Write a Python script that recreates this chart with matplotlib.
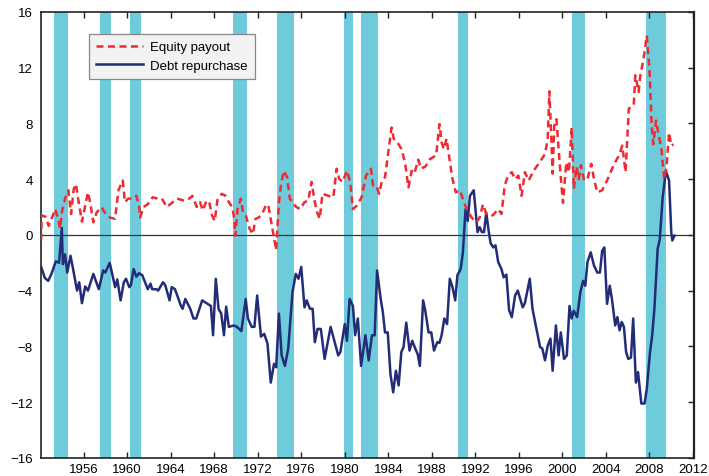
import matplotlib
matplotlib.use("Agg")
import matplotlib.pyplot as plt

plt.rcParams['font.family'] = ['Liberation Sans', 'DejaVu Sans']

# recession periods (start, end) in years
rec_start = [1953.24, 1957.47, 1960.23, 1969.73, 1973.73, 1979.95, 1981.51, 1990.40, 2000.90, 2007.69]
rec_end = [1954.57, 1958.54, 1961.27, 1971.04, 1975.29, 1980.75, 1983.01, 1991.28, 2002.03, 2009.50]

# equity payout (red dashed)
eq_year = [1952.10, 1952.15, 1952.50, 1952.80, 1953.10, 1953.40, 1953.70, 1953.85, 1954.00, 1954.30,
           1954.60, 1954.85, 1955.10, 1955.30, 1955.50, 1955.85, 1956.15, 1956.40, 1956.60, 1956.90,
           1957.20, 1957.65, 1957.95, 1958.40, 1958.90, 1959.20, 1959.60, 1959.80, 1960.10, 1960.50,
           1960.85, 1961.10, 1961.20, 1961.50, 1961.90, 1962.35, 1962.80, 1963.20, 1963.65, 1964.20,
           1964.60, 1965.25, 1965.70, 1966.00, 1966.40, 1966.70, 1966.95, 1967.30, 1967.55, 1967.80,
           1968.05, 1968.30, 1968.70, 1969.05, 1969.35, 1969.65, 1969.80, 1969.95, 1970.15, 1970.45,
           1970.65, 1970.90, 1971.25, 1971.55, 1971.80, 1972.10, 1972.40, 1972.80, 1973.00, 1973.25,
           1973.45, 1973.70, 1973.95, 1974.15, 1974.40, 1974.70, 1974.95, 1975.30, 1975.55, 1975.90,
           1976.30, 1976.65, 1976.95, 1977.15, 1977.40, 1977.70, 1977.95, 1978.50, 1978.95, 1979.25,
           1979.50, 1979.80, 1980.20, 1980.50, 1980.75, 1981.10, 1981.55, 1981.95, 1982.40, 1982.60,
           1982.90, 1983.15, 1983.40, 1983.70, 1984.00, 1984.30, 1984.50, 1984.95, 1985.25, 1985.55,
           1985.85, 1986.15, 1986.40, 1986.75, 1987.00, 1987.40, 1987.85, 1988.40, 1988.70, 1988.90,
           1989.10, 1989.35, 1989.60, 1989.90, 1990.20, 1990.60, 1990.90, 1991.20, 1991.65, 1992.10,
           1992.40, 1992.70, 1993.00, 1993.60, 1994.10, 1994.40, 1994.70, 1995.00, 1995.35, 1995.65,
           1995.95, 1996.25, 1996.55, 1996.90, 1997.35, 1997.90, 1998.40, 1998.65, 1998.80, 1998.95,
           1999.10, 1999.25, 1999.45, 1999.65, 1999.90, 2000.05, 2000.35, 2000.60, 2000.85, 2001.05,
           2001.30, 2001.50, 2001.70, 2002.00, 2002.30, 2002.65, 2002.90, 2003.20, 2003.65, 2004.10,
           2004.70, 2005.20, 2005.50, 2005.80, 2006.10, 2006.55, 2006.70, 2007.00, 2007.15, 2007.45,
           2007.75, 2008.00, 2008.20, 2008.35, 2008.60, 2008.80, 2009.10, 2009.35, 2009.55, 2009.80,
           2010.00, 2010.20]
eq_val = [-0.4, 1.4, 1.3, 0.65, 1.25, 1.85, 1.0, 0.45, 1.6, 2.6,
          3.2, 1.5, 3.3, 3.65, 2.6, 0.95, 2.1, 3.05, 2.35, 0.9,
          1.6, 2.0, 1.6, 1.25, 1.15, 3.2, 3.9, 2.35, 2.6, 2.6,
          2.8, 2.1, 1.25, 2.0, 2.2, 2.7, 2.6, 2.6, 2.0, 2.35,
          2.6, 2.45, 2.6, 2.8, 2.0, 2.35, 1.75, 2.45, 2.35, 1.4,
          1.0, 2.5, 2.95, 2.8, 2.35, 2.0, 1.4, -0.05, 1.85, 2.6,
          1.6, 1.4, 0.45, 0.05, 1.15, 1.25, 1.5, 2.2, 2.0, 0.9,
          0.05, -1.1, 2.35, 3.65, 4.6, 4.15, 2.6, 2.2, 2.0, 1.85,
          2.35, 2.45, 3.8, 2.8, 1.75, 1.15, 2.95, 2.8, 2.7, 4.75,
          4.0, 3.8, 4.6, 3.8, 1.85, 2.1, 2.7, 4.25, 4.75, 3.55,
          3.55, 2.95, 3.8, 4.15, 5.95, 7.7, 6.9, 6.5, 6.1, 5.1,
          3.4, 4.6, 4.4, 5.4, 4.75, 4.9, 5.45, 5.7, 7.95, 6.65,
          6.15, 6.9, 5.55, 4.0, 3.05, 3.2, 2.45, 1.85, 1.25, 0.9,
          1.25, 2.2, 1.5, 1.4, 1.85, 1.5, 3.55, 4.25, 4.5, 4.0,
          4.25, 2.8, 4.5, 3.9, 4.6, 5.2, 5.8, 6.9, 10.3, 7.5,
          4.4, 7.85, 8.3, 6.15, 3.65, 2.3, 5.2, 4.5, 7.7, 3.3,
          4.9, 4.0, 5.0, 3.9, 4.0, 5.1, 4.0, 3.05, 3.2, 3.9,
          5.0, 5.7, 6.4, 4.5, 9.05, 9.3, 11.45, 10.25, 11.4, 12.6,
          14.3, 11.9, 7.85, 6.5, 8.2, 7.35, 6.15, 4.0, 4.75, 7.35,
          6.4, 6.5]

# debt repurchase (navy solid)
debt_year = [1952.10, 1952.45, 1952.75, 1953.05, 1953.45, 1953.75, 1954.00, 1954.10, 1954.30, 1954.50,
             1954.80, 1955.00, 1955.40, 1955.60, 1955.85, 1956.15, 1956.40, 1956.90, 1957.40, 1957.80,
             1958.00, 1958.40, 1958.90, 1959.10, 1959.40, 1959.70, 1959.90, 1960.20, 1960.35, 1960.60,
             1960.85, 1961.10, 1961.40, 1961.90, 1962.15, 1962.30, 1962.70, 1962.85, 1963.30, 1963.50,
             1963.90, 1964.10, 1964.40, 1964.95, 1965.10, 1965.35, 1965.80, 1966.10, 1966.35, 1966.90,
             1967.30, 1967.70, 1967.90, 1968.15, 1968.40, 1968.65, 1968.90, 1969.10, 1969.35, 1969.80,
             1970.10, 1970.50, 1970.90, 1971.10, 1971.45, 1971.70, 1971.95, 1972.30, 1972.60, 1972.90,
             1973.20, 1973.50, 1973.70, 1973.95, 1974.20, 1974.50, 1974.80, 1975.20, 1975.50, 1975.75,
             1976.00, 1976.30, 1976.50, 1976.80, 1977.05, 1977.25, 1977.50, 1977.80, 1978.15, 1978.70,
             1979.40, 1979.60, 1980.00, 1980.20, 1980.45, 1980.75, 1980.95, 1981.20, 1981.50, 1981.90,
             1982.20, 1982.50, 1982.75, 1982.97, 1983.30, 1983.50, 1983.70, 1983.95, 1984.20, 1984.45,
             1984.70, 1984.95, 1985.20, 1985.40, 1985.65, 1985.95, 1986.20, 1986.50, 1986.70, 1986.90,
             1987.20, 1987.40, 1987.70, 1987.95, 1988.20, 1988.50, 1988.70, 1988.90, 1989.15, 1989.40,
             1989.65, 1989.90, 1990.15, 1990.35, 1990.65, 1990.85, 1991.10, 1991.30, 1991.50, 1991.85,
             1992.20, 1992.40, 1992.60, 1992.80, 1993.00, 1993.20, 1993.40, 1993.65, 1993.85, 1994.10,
             1994.40, 1994.60, 1994.85, 1995.10, 1995.35, 1995.65, 1995.90, 1996.35, 1996.55, 1997.00,
             1997.25, 1997.55, 1997.95, 1998.15, 1998.40, 1998.65, 1998.90, 1999.10, 1999.40, 1999.65,
             1999.85, 2000.15, 2000.40, 2000.65, 2000.85, 2001.05, 2001.35, 2001.65, 2001.90, 2002.10,
             2002.30, 2002.60, 2002.90, 2003.20, 2003.45, 2003.65, 2003.85, 2004.10, 2004.35, 2004.55,
             2004.85, 2005.05, 2005.25, 2005.45, 2005.65, 2005.85, 2006.05, 2006.30, 2006.50, 2006.75,
             2006.95, 2007.25, 2007.55, 2007.75, 2008.05, 2008.25, 2008.45, 2008.75, 2008.95, 2009.20,
             2009.50, 2009.80, 2010.00, 2010.10, 2010.30]
debt_val = [-2.3, -3.1, -3.3, -2.8, -1.9, -2.0, 0.5, -2.1, -1.4, -2.7,
            -1.5, -2.3, -4.0, -3.4, -4.9, -3.7, -4.0, -2.8, -3.9, -2.55,
            -2.7, -2.0, -3.75, -3.2, -4.7, -3.4, -3.15, -3.75, -3.6, -2.45,
            -3.0, -2.75, -2.9, -3.9, -3.5, -3.9, -3.9, -4.0, -3.4, -3.6,
            -4.7, -3.75, -3.9, -5.1, -5.3, -4.6, -5.3, -6.0, -6.0, -4.7,
            -4.9, -5.1, -7.2, -3.15, -5.3, -5.65, -7.2, -5.15, -6.6, -6.5,
            -6.6, -6.9, -4.6, -6.0, -6.6, -6.6, -4.35, -7.3, -7.1, -7.8,
            -10.6, -9.25, -9.5, -5.65, -8.65, -9.4, -8.2, -4.1, -2.8, -3.15,
            -2.3, -5.2, -4.7, -5.3, -5.3, -7.7, -6.75, -6.75, -8.9, -6.6,
            -8.65, -8.4, -6.4, -7.6, -4.6, -5.1, -7.2, -6.0, -9.4, -7.2,
            -9.0, -7.2, -7.2, -2.55, -4.6, -5.55, -7.0, -7.0, -10.0, -11.3,
            -9.75, -10.8, -8.4, -8.05, -6.3, -8.3, -7.6, -8.2, -8.55, -9.4,
            -4.7, -5.45, -7.0, -7.0, -8.3, -7.7, -7.75, -7.2, -6.0, -6.4,
            -3.15, -3.75, -4.7, -2.9, -2.45, -1.3, 1.85, 1.0, 2.8, 3.2,
            0.2, 0.55, 0.2, 0.2, 1.6, 0.4, -0.6, -0.9, -0.75, -1.95,
            -2.45, -3.05, -2.85, -5.4, -5.9, -4.35, -4.0, -5.2, -4.9, -3.15,
            -5.3, -6.5, -8.05, -8.15, -9.0, -7.95, -7.45, -9.75, -6.5, -8.65,
            -7.0, -8.9, -8.65, -5.1, -6.0, -5.45, -5.9, -4.1, -3.3, -3.65,
            -1.95, -1.25, -2.2, -2.7, -2.7, -1.15, -0.9, -4.95, -3.65, -4.6,
            -6.5, -5.9, -6.85, -6.25, -6.6, -8.4, -8.9, -8.8, -6.0, -10.6,
            -9.85, -12.1, -12.1, -11.05, -8.4, -7.2, -5.3, -1.0, -0.3, 2.6,
            4.6, 3.9, 0.2, -0.4, -0.05]

x_ticks = list(range(1956, 2013, 4))
y_ticks = list(range(-16, 17, 4))

fig = plt.figure(figsize=(7.09, 4.77), dpi=100)
ax = fig.add_axes([0.058, 0.038, 0.921, 0.935])

for s, e in zip(rec_start, rec_end):
    ax.axvspan(s, e, color='#6dcbdb', lw=0, zorder=0)

ax.axhline(0, color='#333333', lw=0.9, zorder=1)

ax.plot(eq_year, eq_val, color='#ee2b30', lw=1.8, dashes=(2.8, 1.8),
        label='Equity payout', zorder=3)
ax.plot(debt_year, debt_val, color='#232c77', lw=1.8,
        label='Debt repurchase', zorder=2)

ax.set_xlim(1952.1, 2012.1)
ax.set_ylim(-16, 16)
ax.set_xticks(x_ticks)
ax.set_yticks(y_ticks)
ax.set_yticklabels([str(v).replace('-', '\u2212') for v in y_ticks])
ax.tick_params(axis='both', direction='in', length=4, width=1, labelsize=9.5,
               top=True, right=True, color='#222222')
ax.tick_params(axis='y', left=False, pad=6)
ax.tick_params(axis='x', pad=4)

for sp in ax.spines.values():
    sp.set_linewidth(1.2)
    sp.set_color('#222222')
ax.spines['right'].set_linewidth(1.6)

leg = ax.legend(loc='upper left', bbox_to_anchor=(0.0735, 0.951), borderaxespad=0,
                fontsize=9.5, handlelength=3.5, handletextpad=0.6, frameon=True,
                fancybox=False, borderpad=0.55, labelspacing=0.5)
leg.get_frame().set_facecolor('#f2f2f2')
leg.get_frame().set_edgecolor('#888888')
leg.get_frame().set_linewidth(0.9)
leg.get_frame().set_alpha(1)

fig.savefig('out.png', dpi=100)
